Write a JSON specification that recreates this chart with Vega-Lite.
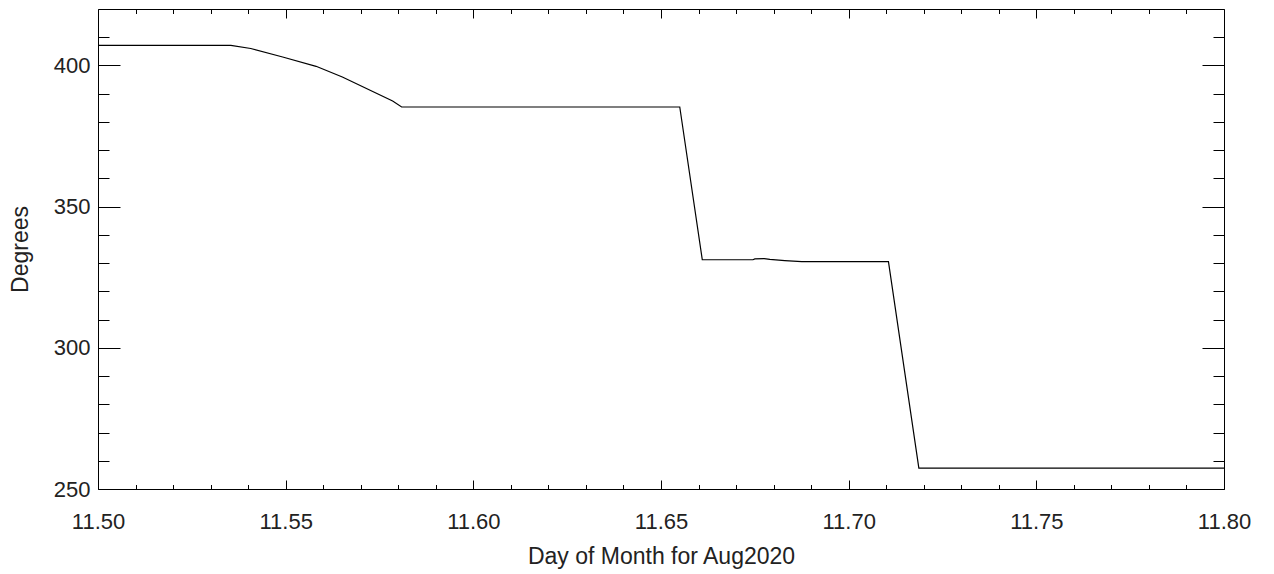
{
  "$schema": "https://vega.github.io/schema/vega-lite/v6.json",
  "width": 1126,
  "height": 480,
  "autosize": {"type": "none"},
  "padding": {"left": 98, "top": 9, "right": 50, "bottom": 85},
  "background": "white",
  "config": {
    "view": {"stroke": null},
    "axis": {
      "grid": false,
      "domainColor": "#000",
      "domainWidth": 1,
      "tickColor": "#000",
      "tickWidth": 1,
      "labelFont": "Liberation Sans",
      "labelFontSize": 22,
      "labelColor": "#222",
      "titleFont": "Liberation Sans",
      "titleFontSize": 23,
      "titleFontWeight": "normal",
      "titleColor": "#222",
      "labelFlush": false,
      "labelOverlap": false
    }
  },
  "data": {
    "values": [
      {"day": 11.5000, "deg": 407.1},
      {"day": 11.5354, "deg": 407.1},
      {"day": 11.5407, "deg": 406.0},
      {"day": 11.5492, "deg": 403.0},
      {"day": 11.5581, "deg": 399.7},
      {"day": 11.5651, "deg": 395.9},
      {"day": 11.5785, "deg": 387.4},
      {"day": 11.5809, "deg": 385.3},
      {"day": 11.6550, "deg": 385.3},
      {"day": 11.6610, "deg": 331.2},
      {"day": 11.6745, "deg": 331.2},
      {"day": 11.6750, "deg": 331.5},
      {"day": 11.6775, "deg": 331.6},
      {"day": 11.6790, "deg": 331.3},
      {"day": 11.6830, "deg": 330.9},
      {"day": 11.6875, "deg": 330.5},
      {"day": 11.7106, "deg": 330.5},
      {"day": 11.7187, "deg": 257.4},
      {"day": 11.8000, "deg": 257.4}
    ]
  },
  "layer": [
    {
      "mark": {"type": "line", "color": "#000", "strokeWidth": 1.2, "clip": true},
      "encoding": {
        "x": {
          "field": "day", "type": "quantitative",
          "scale": {"domain": [11.5, 11.8], "nice": false, "zero": false},
          "axis": {
            "orient": "bottom",
            "title": "Day of Month for Aug2020",
            "values": [11.5, 11.55, 11.6, 11.65, 11.7, 11.75, 11.8],
            "format": ".2f",
            "tickSize": -9,
            "labelPadding": 31,
            "titleX": 563,
            "titleY": 74,
            "titleBaseline": "alphabetic",
            "titleAnchor": null
          }
        },
        "y": {
          "field": "deg", "type": "quantitative",
          "scale": {"domain": [250, 420], "nice": false, "zero": false},
          "axis": {
            "orient": "left",
            "title": "Degrees",
            "values": [250, 300, 350, 400],
            "format": "d",
            "tickSize": -22,
            "labelPadding": 30,
            "titleX": -71,
            "titleY": 240,
            "titleBaseline": "alphabetic",
            "titleAngle": -90
          }
        }
      }
    },
    {
      "mark": {"type": "line", "strokeOpacity": 0},
      "encoding": {
        "x": {
          "field": "day", "type": "quantitative",
          "scale": {"domain": [11.5, 11.8], "nice": false, "zero": false},
          "axis": {
            "orient": "bottom", "title": null, "labels": false, "domain": false,
            "values": [11.51, 11.52, 11.53, 11.54, 11.56, 11.57, 11.58, 11.59, 11.61, 11.62, 11.63, 11.64, 11.66, 11.67, 11.68, 11.69, 11.71, 11.72, 11.73, 11.74, 11.76, 11.77, 11.78, 11.79],
            "tickSize": -4.5
          }
        },
        "y": {
          "field": "deg", "type": "quantitative",
          "scale": {"domain": [250, 420], "nice": false, "zero": false},
          "axis": {
            "orient": "left", "title": null, "labels": false, "domain": false,
            "values": [260, 270, 280, 290, 310, 320, 330, 340, 360, 370, 380, 390, 410],
            "tickSize": -11
          }
        }
      }
    },
    {
      "mark": {"type": "line", "strokeOpacity": 0},
      "encoding": {
        "x": {
          "field": "day", "type": "quantitative",
          "scale": {"domain": [11.5, 11.8], "nice": false, "zero": false},
          "axis": {
            "orient": "top", "title": null, "labels": false,
            "values": [11.5, 11.55, 11.6, 11.65, 11.7, 11.75, 11.8],
            "tickSize": -9
          }
        },
        "y": {
          "field": "deg", "type": "quantitative",
          "scale": {"domain": [250, 420], "nice": false, "zero": false},
          "axis": {
            "orient": "right", "title": null, "labels": false,
            "values": [250, 300, 350, 400],
            "tickSize": -22
          }
        }
      }
    },
    {
      "mark": {"type": "line", "strokeOpacity": 0},
      "encoding": {
        "x": {
          "field": "day", "type": "quantitative",
          "scale": {"domain": [11.5, 11.8], "nice": false, "zero": false},
          "axis": {
            "orient": "top", "title": null, "labels": false, "domain": false,
            "values": [11.51, 11.52, 11.53, 11.54, 11.56, 11.57, 11.58, 11.59, 11.61, 11.62, 11.63, 11.64, 11.66, 11.67, 11.68, 11.69, 11.71, 11.72, 11.73, 11.74, 11.76, 11.77, 11.78, 11.79],
            "tickSize": -4.5
          }
        },
        "y": {
          "field": "deg", "type": "quantitative",
          "scale": {"domain": [250, 420], "nice": false, "zero": false},
          "axis": {
            "orient": "right", "title": null, "labels": false, "domain": false,
            "values": [260, 270, 280, 290, 310, 320, 330, 340, 360, 370, 380, 390, 410],
            "tickSize": -11
          }
        }
      }
    }
  ],
  "resolve": {"axis": {"x": "independent", "y": "independent"}}
}
